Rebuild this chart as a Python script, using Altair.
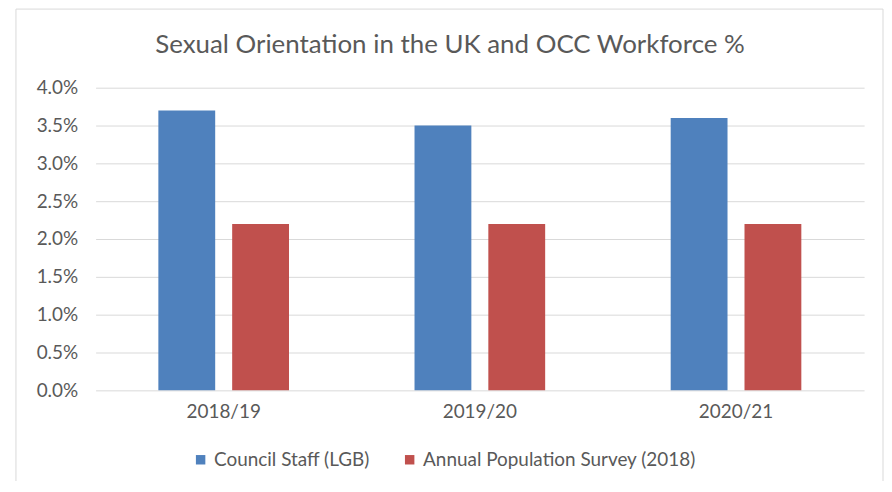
import altair as alt
import pandas as pd

years = ["2018/19", "2019/20", "2020/21"]
series = ["Council Staff (LGB)", "Annual Population Survey (2018)"]
council = [0.037, 0.035, 0.036]
aps = [0.022, 0.022, 0.022]
y_ticks = [0.0, 0.005, 0.01, 0.015, 0.02, 0.025, 0.03, 0.035, 0.04]
colors = ["#4F81BD", "#C0504D"]
title_text = "Sexual Orientation in the UK and OCC Workforce %"

rows = []
for i, yr in enumerate(years):
    rows.append({"year": yr, "series": series[0], "value": council[i]})
    rows.append({"year": yr, "series": series[1], "value": aps[i]})
df = pd.DataFrame(rows)

FONT = "Lato"
GREY = "#595959"
FS = 19

bars = alt.Chart(df).mark_bar().encode(
    x=alt.X("year:N", sort=years, title=None,
            scale=alt.Scale(paddingInner=0.49, paddingOuter=0.245),
            axis=alt.Axis(labelAngle=0, labelFontSize=FS, labelColor=GREY, labelFont=FONT,
                          ticks=False, domain=False, labelPadding=12)),
    xOffset=alt.XOffset("series:N", sort=series,
                        scale=alt.Scale(paddingInner=0.23, paddingOuter=0)),
    y=alt.Y("value:Q", title=None,
            scale=alt.Scale(domain=[0, 0.04], nice=False),
            axis=alt.Axis(values=y_ticks, format=".1%", labelFontSize=FS, labelColor=GREY,
                          labelFont=FONT, ticks=False, domain=False, labelPadding=18,
                          gridColor="#D9D9D9", gridWidth=1)),
    color=alt.Color("series:N", sort=series,
                    scale=alt.Scale(domain=series, range=colors),
                    legend=alt.Legend(title=None, orient="none", direction="horizontal",
                                      legendX=96, legendY=364, symbolType="square",
                                      symbolSize=90, labelFontSize=FS, labelColor=GREY,
                                      labelFont=FONT, columnPadding=30, symbolStrokeWidth=0,
                                      labelLimit=400, labelOffset=4)),
)

frame = alt.Chart(pd.DataFrame({"a": [0]})).mark_rect(
    fill=None, stroke="#D9D9D9", strokeWidth=1
).encode(x=alt.value(-80), x2=alt.value(791), y=alt.value(-79), y2=alt.value(420))

title = alt.Chart(pd.DataFrame({"t": [title_text]})).mark_text(
    font=FONT, fontSize=26, color=GREY, align="center", baseline="middle"
).encode(text="t:N", x=alt.value(356), y=alt.value(-43))

chart = alt.layer(frame, bars, title).properties(
    width=772, height=304,
    autosize=alt.AutoSizeParams(type="none"),
    padding={"left": 88, "top": 79, "right": 20, "bottom": 90},
).configure_view(stroke=None)

chart.save("out.html", embed_options={"renderer": "svg", "actions": False})
